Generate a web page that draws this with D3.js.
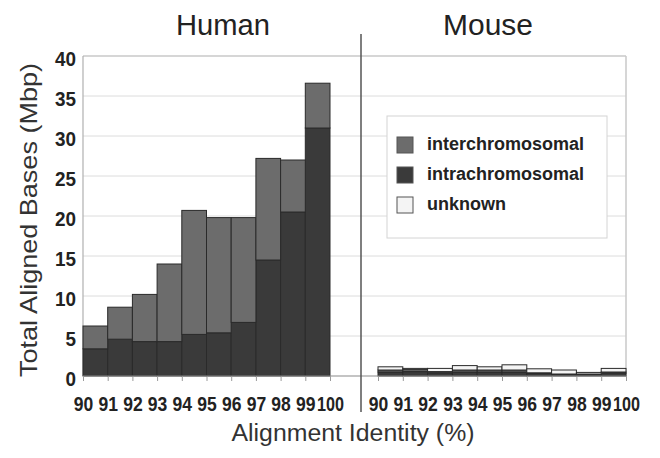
<!DOCTYPE html>
<html><head><meta charset="utf-8">
<script src="https://cdn.jsdelivr.net/npm/d3@7/dist/d3.min.js"></script>
<style>
html,body{margin:0;padding:0;background:#fff;}
svg{display:block;font-family:"Liberation Sans",Arial,Helvetica,sans-serif;}
</style></head><body>
<svg id="chart" width="660" height="458"></svg>
<script>
const bins = [90,91,92,93,94,95,96,97,98,99];
const tickValues = [90,91,92,93,94,95,96,97,98,99,100];
const tickLabels = ["90","91","92","93","94","95","96","97","98","99","100"];
const yTicks = [0,5,10,15,20,25,30,35,40];
const seriesNames = ["intrachromosomal","interchromosomal","unknown"];
const legendOrder = ["interchromosomal","intrachromosomal","unknown"];

const humanIntra   = [3.4,4.6,4.3,4.3,5.2,5.4,6.7,14.5,20.5,31.0];
const humanInter   = [2.85,4.0,5.9,9.7,15.5,14.4,13.1,12.7,6.5,5.6];
const humanUnknown = [0,0,0,0,0,0,0,0,0,0];

const mouseIntra   = [0.5,0.55,0.4,0.5,0.5,0.5,0.3,0.2,0.2,0.35];
const mouseInter   = [0.25,0.25,0.15,0.25,0.25,0.25,0.1,0.05,0.05,0.15];
const mouseUnknown = [0.4,0.15,0.4,0.55,0.4,0.65,0.5,0.5,0.2,0.45];

const colors = {interchromosomal:"#6c6c6c", intrachromosomal:"#3a3a3a", unknown:"#f4f4f4"};

const svg = d3.select("#chart");
const y = d3.scaleLinear().domain([0,40]).range([376,56]);
const xH = d3.scaleLinear().domain([90,100]).range([83,330]);
const xM = d3.scaleLinear().domain([90,100]).range([378,626]);
const plotL = 83, plotR = 626;

// gridlines
svg.append("g").selectAll("line").data(yTicks.filter(d=>d>0 && d<40)).join("line")
  .attr("x1",plotL).attr("x2",plotR).attr("y1",d=>y(d)).attr("y2",d=>y(d))
  .attr("stroke","#dcdcdc").attr("stroke-width",1);
// frame
svg.append("line").attr("x1",plotL).attr("x2",plotR).attr("y1",y(40)).attr("y2",y(40)).attr("stroke","#c8c8c8").attr("stroke-width",1.5);
svg.append("line").attr("x1",plotR).attr("x2",plotR).attr("y1",y(40)).attr("y2",y(0)).attr("stroke","#c8c8c8").attr("stroke-width",1.5);
svg.append("line").attr("x1",plotL).attr("x2",plotL).attr("y1",y(40)).attr("y2",y(0)).attr("stroke","#b0b0b0").attr("stroke-width",1.2);

function table(intra, inter, unk){
  return bins.map((b,i)=>({bin:b, intrachromosomal:intra[i], interchromosomal:inter[i], unknown:unk[i]}));
}
const stack = d3.stack().keys(seriesNames);

function drawBars(data, x, g){
  const layers = stack(data);
  g.selectAll("g").data(layers).join("g")
    .attr("fill",d=>colors[d.key])
    .selectAll("rect").data(d=>d.filter(p=>p[1]-p[0]>0)).join("rect")
    .attr("x",d=>x(d.data.bin)).attr("width",d=>x(d.data.bin+1)-x(d.data.bin))
    .attr("y",d=>y(d[1])).attr("height",d=>y(d[0])-y(d[1]))
    .attr("stroke","#2a2a2a").attr("stroke-width",1);
}
drawBars(table(humanIntra,humanInter,humanUnknown), xH, svg.append("g"));
drawBars(table(mouseIntra,mouseInter,mouseUnknown), xM, svg.append("g"));

// baseline
svg.append("line").attr("x1",plotL).attr("x2",plotR).attr("y1",y(0)).attr("y2",y(0)).attr("stroke","#8a8a8a").attr("stroke-width",1.2);

// x axes
function xAxis(x){
  const g = svg.append("g").attr("transform",`translate(0,${y(0)})`)
    .call(d3.axisBottom(x).tickValues(tickValues).tickSize(5).tickSizeOuter(0)
      .tickFormat((d,i)=>tickLabels[i]));
  g.select(".domain").remove();
  g.selectAll(".tick line").attr("stroke","#9a9a9a");
  g.selectAll(".tick text").attr("y",21).attr("dy","0.71em").attr("font-size",20).attr("font-weight","bold")
    .attr("fill","#222").attr("font-family","'Liberation Sans',Arial,sans-serif")
    .attr("textLength",(d,i)=>tickLabels[i].length>2?27:19.5).attr("lengthAdjust","spacingAndGlyphs");
}
xAxis(xH); xAxis(xM);

// y axis
const ya = svg.append("g").attr("transform",`translate(${plotL},0)`)
  .call(d3.axisLeft(y).tickValues(yTicks).tickSize(0).tickPadding(7));
ya.select(".domain").remove();
ya.selectAll(".tick text").attr("font-size",20).attr("font-weight","bold").attr("fill","#222")
  .attr("dy","0.45em").attr("font-family","'Liberation Sans',Arial,sans-serif")
  .attr("textLength",(d)=>String(d).length>1?21:10.5).attr("lengthAdjust","spacingAndGlyphs");

// divider
svg.append("line").attr("x1",361).attr("x2",361).attr("y1",34).attr("y2",412).attr("stroke","#555").attr("stroke-width",1.5);

// titles
svg.append("text").attr("x",223).attr("y",35).attr("text-anchor","middle").attr("font-size",30)
  .attr("fill","#222").attr("textLength",94).attr("lengthAdjust","spacingAndGlyphs").text("Human");
svg.append("text").attr("x",488).attr("y",35).attr("text-anchor","middle").attr("font-size",30)
  .attr("fill","#222").attr("textLength",90).attr("lengthAdjust","spacingAndGlyphs").text("Mouse");
svg.append("text").attr("transform","translate(37,220) rotate(-90)").attr("text-anchor","middle")
  .attr("font-size",24).attr("fill","#333").attr("textLength",314).attr("lengthAdjust","spacingAndGlyphs")
  .text("Total Aligned Bases (Mbp)");
svg.append("text").attr("x",353).attr("y",441).attr("text-anchor","middle").attr("font-size",23)
  .attr("fill","#333").attr("textLength",243).attr("lengthAdjust","spacingAndGlyphs")
  .text("Alignment Identity (%)");

// legend
const lg = svg.append("g");
lg.append("rect").attr("x",387).attr("y",116).attr("width",220).attr("height",122)
  .attr("fill","#fff").attr("stroke","#d4d4d4").attr("stroke-width",1);
const rows = lg.selectAll("g.row").data(legendOrder).join("g").attr("class","row")
  .attr("transform",(d,i)=>`translate(397,${137+i*30})`);
rows.append("rect").attr("width",16).attr("height",16).attr("fill",d=>colors[d]).attr("stroke","#555").attr("stroke-width",1);
rows.append("text").attr("x",30).attr("y",13).attr("font-size",18).attr("font-weight","bold").attr("fill","#222")
  .text(d=>d);
</script>
</body></html>
